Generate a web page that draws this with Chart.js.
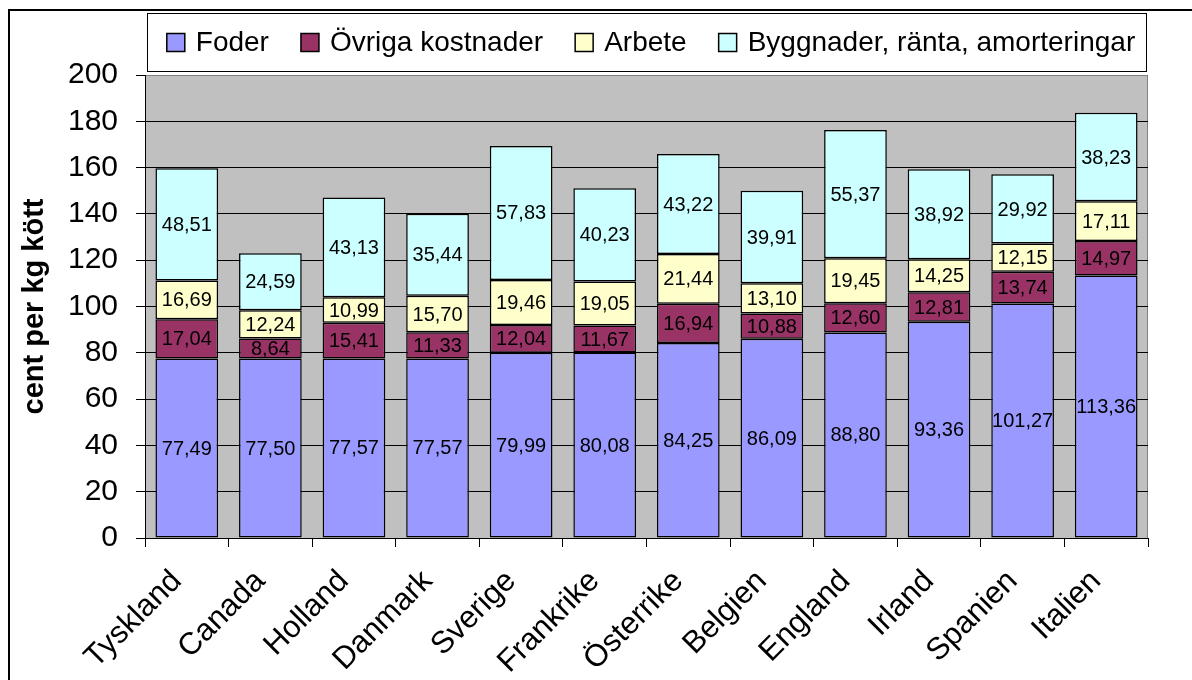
<!DOCTYPE html>
<html>
<head>
<meta charset="utf-8">
<script src="https://cdn.jsdelivr.net/npm/chart.js@4/dist/chart.umd.min.js"></script>
<style>
  html, body { margin: 0; padding: 0; background: #fff; }
  #wrap { width: 1192px; height: 680px; }
</style>
</head>
<body>
<div id="wrap"><canvas id="myChart" width="1192" height="680"></canvas></div>
<script>
const lander = ['Tyskland', 'Canada', 'Holland', 'Danmark', 'Sverige', 'Frankrike',
  'Österrike', 'Belgien', 'England', 'Irland', 'Spanien', 'Italien'];

const foder     = [77.49, 77.50, 77.57, 77.57, 79.99, 80.08, 84.25, 86.09, 88.80, 93.36, 101.27, 113.36];
const ovriga    = [17.04, 8.64, 15.41, 11.33, 12.04, 11.67, 16.94, 10.88, 12.60, 12.81, 13.74, 14.97];
const arbete    = [16.69, 12.24, 10.99, 15.70, 19.46, 19.05, 21.44, 13.10, 19.45, 14.25, 12.15, 17.11];
const byggnader = [48.51, 24.59, 43.13, 35.44, 57.83, 40.23, 43.22, 39.91, 55.37, 38.92, 29.92, 38.23];

const yMin = 0, yMax = 200, ySteg = 20;

const typsnitt = "Arial, 'Liberation Sans', sans-serif";
Chart.defaults.color = '#000';
Chart.defaults.font.family = typsnitt;

function kommatal(v) {
  return v.toFixed(2).replace('.', ',');
}

// bakgrund, ram och grå rityta
const bakgrund = {
  id: 'bakgrund',
  beforeDraw(chart) {
    const ctx = chart.ctx, ca = chart.chartArea;
    ctx.save();
    ctx.fillStyle = '#fff';
    ctx.fillRect(0, 0, chart.width, chart.height);
    ctx.strokeStyle = '#000';
    ctx.lineWidth = 2;
    ctx.beginPath();
    ctx.moveTo(9, chart.height);
    ctx.lineTo(9, 10);
    ctx.lineTo(chart.width, 10);
    ctx.stroke();
    ctx.fillStyle = '#c0c0c0';
    ctx.fillRect(ca.left, ca.top, ca.right - ca.left, ca.bottom - ca.top);
    ctx.strokeStyle = '#808080';
    ctx.lineWidth = 1;
    ctx.strokeRect(ca.left + 0.5, ca.top + 0.5, ca.right - ca.left - 1, ca.bottom - ca.top);
    ctx.restore();
  }
};

// värden mitt i varje stapeldel
const etiketter = {
  id: 'etiketter',
  afterDatasetsDraw(chart) {
    const ctx = chart.ctx;
    ctx.save();
    ctx.font = '20px ' + typsnitt;
    ctx.fillStyle = '#000';
    ctx.textAlign = 'center';
    ctx.textBaseline = 'middle';
    chart.data.datasets.forEach((ds, i) => {
      chart.getDatasetMeta(i).data.forEach((bar, j) => {
        ctx.fillText(kommatal(ds.data[j]), bar.x, (bar.y + bar.base) / 2 + 1);
      });
    });
    ctx.restore();
  }
};

// teckenförklaring i ruta ovanför ritytan
const forklaring = {
  id: 'forklaring',
  afterDraw(chart) {
    const ctx = chart.ctx, ca = chart.chartArea;
    ctx.save();
    ctx.font = '28px ' + typsnitt;
    const ruta = 18, textGap = 11, postGap = 32;
    const poster = chart.data.datasets.map(ds => ({
      text: ds.label, farg: ds.backgroundColor, w: ctx.measureText(ds.label).width
    }));
    let total = 0;
    poster.forEach(p => { total += ruta + textGap + p.w; });
    total += postGap * (poster.length - 1);
    const l = ca.left + 2, r = ca.right - 1, t = 13, b = 72;
    ctx.fillStyle = '#fff';
    ctx.fillRect(l, t, r - l, b - t);
    ctx.strokeStyle = '#000';
    ctx.lineWidth = 1;
    ctx.strokeRect(l + 0.5, t + 0.5, r - l - 1, b - t - 1);
    let x = (l + r) / 2 - total / 2 + 4;
    const ym = (t + b) / 2;
    ctx.textBaseline = 'middle';
    poster.forEach(p => {
      ctx.fillStyle = p.farg;
      ctx.fillRect(x, ym - ruta / 2, ruta, ruta);
      ctx.strokeStyle = '#000';
      ctx.lineWidth = 1.5;
      ctx.strokeRect(x, ym - ruta / 2, ruta, ruta);
      ctx.fillStyle = '#000';
      ctx.fillText(p.text, x + ruta + textGap, ym + 1);
      x += ruta + textGap + p.w + postGap;
    });
    ctx.restore();
  }
};

function serie(namn, varden, farg) {
  return {
    label: namn,
    data: varden,
    backgroundColor: farg,
    borderColor: '#000',
    borderWidth: 1.5,
    borderSkipped: false,
    inflateAmount: 0,
    barPercentage: 0.75,
    categoryPercentage: 1
  };
}

const ctx = document.getElementById('myChart');
new Chart(ctx, {
  type: 'bar',
  data: {
    labels: lander,
    datasets: [
      serie('Foder', foder, '#9999ff'),
      serie('Övriga kostnader', ovriga, '#993366'),
      serie('Arbete', arbete, '#ffffcc'),
      serie('Byggnader, ränta, amorteringar', byggnader, '#ccffff')
    ]
  },
  options: {
    responsive: false,
    animation: false,
    layout: { padding: { top: 75, right: 44, left: 0, bottom: 0 } },
    plugins: {
      legend: { display: false },
      tooltip: { enabled: false }
    },
    scales: {
      x: {
        stacked: true,
        afterFit: s => { s.height = 142; },
        grid: { drawOnChartArea: false, tickLength: 9, tickColor: '#000', lineWidth: 1 },
        border: { color: '#000', width: 1 },
        ticks: {
          font: { size: 31 },
          color: '#000',
          maxRotation: 45,
          minRotation: 45,
          padding: 16,
          labelOffset: -10,
          autoSkip: false
        }
      },
      y: {
        stacked: true,
        min: yMin,
        max: yMax,
        afterFit: s => { s.width = 145; },
        grid: {
          color: c => (c.tick && c.tick.value === yMax) ? '#808080' : '#000',
          tickColor: '#000',
          tickLength: 9,
          lineWidth: 1
        },
        border: { color: '#000', width: 1 },
        ticks: { stepSize: ySteg, font: { size: 30 }, color: '#000', padding: 18 },
        title: {
          display: true,
          text: 'cent per kg kött',
          font: { size: 29, weight: 'bold' },
          color: '#000',
          padding: { top: 18, bottom: 0 }
        }
      }
    }
  },
  plugins: [bakgrund, etiketter, forklaring]
});
</script>
</body>
</html>
